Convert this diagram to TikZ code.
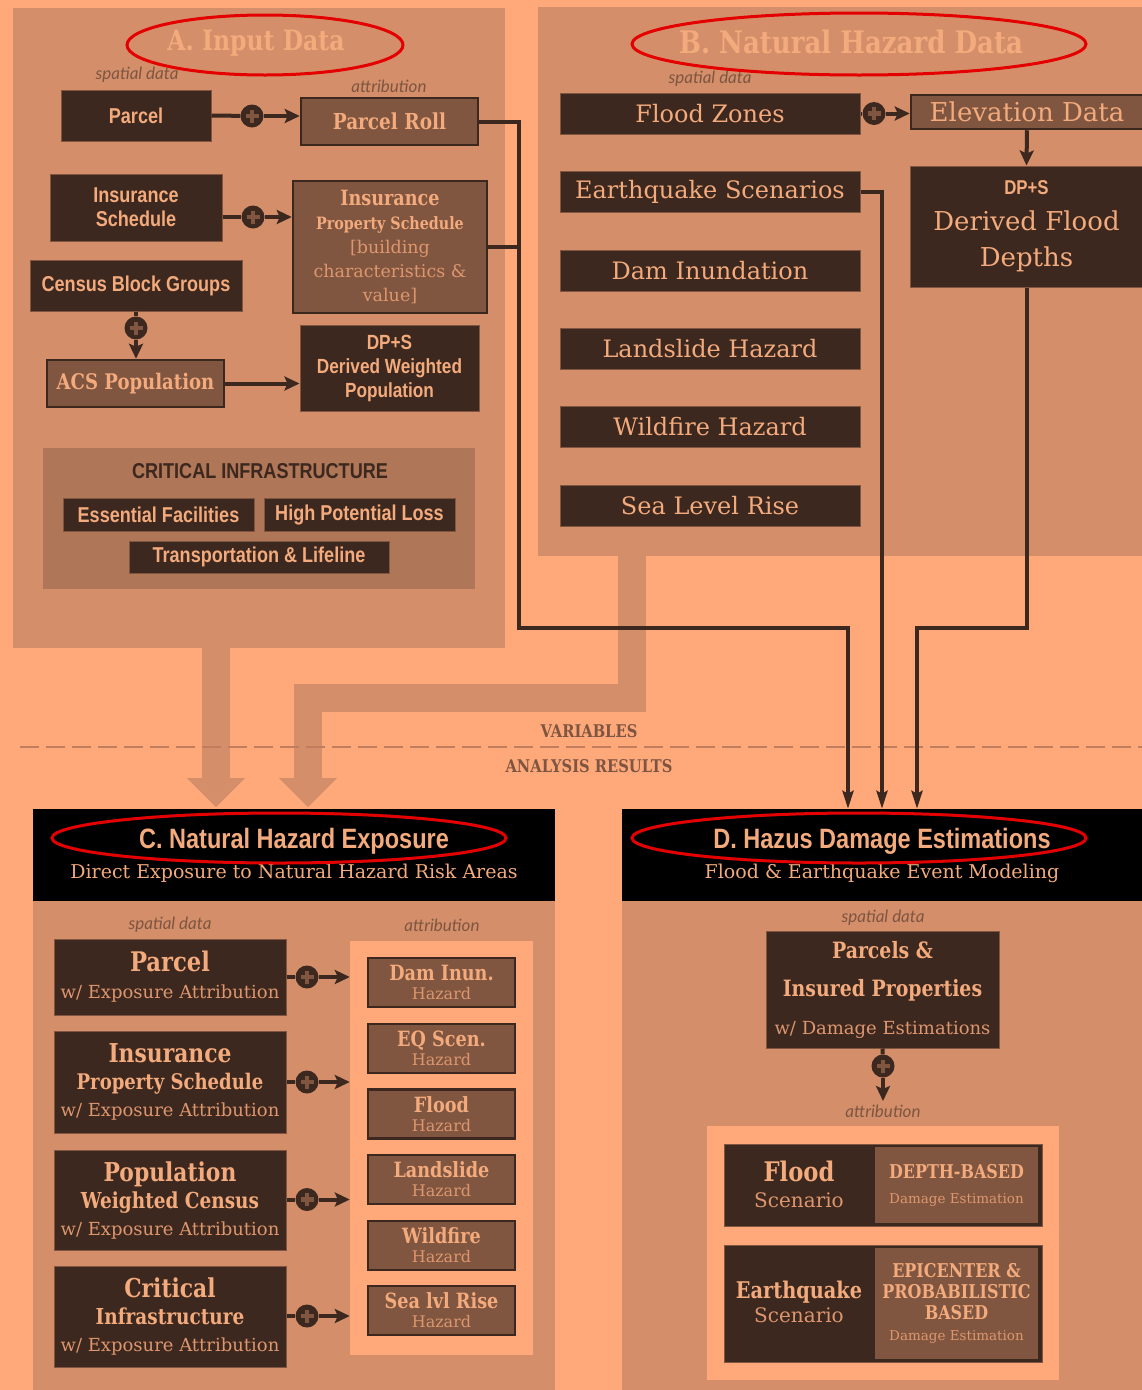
\documentclass[tikz,border=0pt]{standalone}
\usepackage{fontspec}
\usetikzlibrary{arrows.meta}
\setmainfont{DejaVu Serif}
\newfontfamily\slab{DejaVu Serif}
\newfontfamily\slabb[FakeStretch=0.84]{DejaVu Serif}
\newfontfamily\cond[FakeStretch=0.84]{Liberation Sans}
\newfontfamily\ital{Lato}
\definecolor{bgc}{RGB}{255,169,122}
\definecolor{pnc}{RGB}{212,143,106}
\definecolor{dkc}{RGB}{60,40,31}
\definecolor{mdc}{RGB}{128,86,64}
\definecolor{cic}{RGB}{175,118,87}
\definecolor{txc}{RGB}{243,170,124}
\definecolor{tlc}{RGB}{222,150,110}
\definecolor{lbc}{RGB}{125,85,65}
\definecolor{dsc}{RGB}{192,126,94}
\definecolor{rdc}{RGB}{228,0,0}
\newcommand\fz[2]{\fontsize{#1}{#2}\selectfont}
\newcommand\bsl{\slabb\bfseries}
\tikzset{
 dbox/.style={fill=dkc, draw=mdc, line width=1pt, inner sep=0pt, text=txc, align=center},
 mbox/.style={fill=mdc, draw=dkc, line width=2.5pt, inner sep=0pt, text=txc, align=center},
 hbox/.style={fill=black, inner sep=0pt, text=txc, align=center, font=\slab\fz{19}{30}},
 hzbox/.style={dbox, minimum width=300pt, minimum height=41pt, font=\slab\fz{24}{28}},
 hazc/.style={mbox, minimum width=147pt, minimum height=49pt, font=\slab\fz{16}{19}},
 cbox/.style={dbox, minimum width=232pt, font=\slab\fz{18}{27}},
 conn/.style={draw=dkc, line width=4pt},
 arr/.style={conn, -{Stealth[length=15pt,width=14pt,inset=3pt]}},
 tarr/.style={conn, -{Stealth[length=18pt,width=11pt,inset=3pt]}},
 plus/.style={circle, fill=dkc, minimum size=23pt, inner sep=0pt,
   path picture={\draw[mdc,line width=4.5pt]
     ([xshift=-6.5pt]path picture bounding box.center) -- ([xshift=6.5pt]path picture bounding box.center)
     ([yshift=-6.5pt]path picture bounding box.center) -- ([yshift=6.5pt]path picture bounding box.center);}},
 lab/.style={text=lbc, font=\ital\itshape\fz{17}{20}},
 oval/.style={draw=rdc, line width=3pt},
 band/.style={draw=pnc, line width=28pt, line join=miter},
}
\begin{document}
\begin{tikzpicture}[x=1pt,y=-1pt]
\useasboundingbox (0,0) rectangle (1142,1390);
\clip (0,0) rectangle (1142,1390);
\fill[bgc] (0,0) rectangle (1142,1390);

% panels A and B
\fill[pnc] (13,8) rectangle (505,648);
\fill[pnc] (538,7) rectangle (1150,556);

% wide arrows
\draw[band] (216,640) -- (216,779);
\fill[pnc] (187,778) -- (245,778) -- (216,807) -- cycle;
\draw[band] (632,550) -- (632,697.5) -- (308,697.5) -- (308,779);
\fill[pnc] (279,778) -- (337,778) -- (308,807) -- cycle;

% dashed divider
\draw[dsc, line width=2.5pt, dash pattern=on 19pt off 7pt] (20,747) -- (1142,747);
\node[text=lbc, font=\bsl\fz{17.5}{20}] (var) at (589,731) {VARIABLES};
\node[text=lbc, font=\bsl\fz{17.5}{20}] (res) at (589,766) {ANALYSIS RESULTS};

% ---------- Panel A ----------
\node[text=txc, font=\bsl\fz{28}{30}] (tA) at (256,43) {A. Input Data};
\node[lab] (saA) at (137,75) {spatial data};
\node[lab] (atA) at (389,86) {attribution};
\node[dbox, minimum width=150pt, minimum height=51pt, font=\cond\bfseries\fz{21.5}{24}] (aparcel) at (136,115.5) {Parcel};
\node[mbox, minimum width=177pt, minimum height=47pt, font=\bsl\fz{22}{24}] (proll) at (389.5,121.5) {Parcel Roll};
\node[dbox, minimum width=172pt, minimum height=67pt, font=\cond\bfseries\fz{21.5}{24}] (insch) at (136,207.5) {Insurance\\Schedule};
\node[mbox, minimum width=194pt, minimum height=132pt, font=\slab\fz{17.5}{24}] (ips) at (390,247)
  {{\bsl\fz{21}{24}Insurance}\\{\bsl\fz{17}{24}Property Schedule}\\{\color{tlc}[building}\\{\color{tlc}characteristics \&}\\{\color{tlc}value]}};
\node[dbox, minimum width=212pt, minimum height=51pt, font=\cond\bfseries\fz{21.5}{24}] (census) at (136,285.5) {Census Block Groups};
\node[mbox, minimum width=177pt, minimum height=47pt, font=\bsl\fz{21.5}{24}] (acs) at (135.5,383.5) {ACS Population};
\node[dbox, minimum width=179pt, minimum height=86pt, font=\cond\bfseries\fz{20.5}{24}] (dpsA) at (389.5,368) {DP+S\\Derived Weighted\\Population};

\node[fill=cic, minimum width=432pt, minimum height=141pt, inner sep=0pt] (ci) at (259,518.5) {};
\node[text=dkc, font=\cond\bfseries\fz{21.5}{24}] (ciT) at (260,471) {CRITICAL INFRASTRUCTURE};
\node[dbox, minimum width=191pt, minimum height=33pt, font=\cond\bfseries\fz{21.5}{24}] (ess) at (158.5,514.5) {Essential Facilities};
\node[dbox, minimum width=191pt, minimum height=33pt, font=\cond\bfseries\fz{21.5}{24}] (hpl) at (359.5,514.5) {High Potential Loss};
\node[dbox, minimum width=260pt, minimum height=32pt, font=\cond\bfseries\fz{21.5}{24}] (trans) at (259,557) {Transportation \& Lifeline};

\node[plus] (pa1) at (252,116) {};
\draw[conn] (aparcel.east) -- (pa1);
\draw[arr] (pa1) -- (pa1 -| proll.west);
\node[plus] (pa2) at (253,217) {};
\draw[conn] (insch.east |- pa2) -- (pa2);
\draw[arr] (pa2) -- (pa2 -| ips.west);
\node[plus] (pa3) at (136,328) {};
\draw[conn] (census.south) -- (pa3);
\draw[arr] (pa3) -- (pa3 |- acs.north);
\draw[arr] (acs.east) -- (acs.east -| dpsA.west);

% ---------- Panel B ----------
\node[text=txc, font=\bsl\fz{31}{34}] (tB) at (851,42) {B. Natural Hazard Data};
\node[lab] (saB) at (710,79) {spatial data};
\node[hzbox] (fz) at (710,113.5) {Flood Zones};
\node[hzbox] (eqs) at (710,191.5) {Earthquake Scenarios};
\node[hzbox] (dam) at (710,270.5) {Dam Inundation};
\node[hzbox] (land) at (710,349) {Landslide Hazard};
\node[hzbox] (wild) at (710,427) {Wildfire Hazard};
\node[hzbox] (slr) at (710,505.5) {Sea Level Rise};
\node[mbox, minimum width=232pt, minimum height=34pt, font=\slab\fz{26}{28}] (elev) at (1027,112) {Elevation Data};
\node[dbox, minimum width=233pt, minimum height=121pt, font=\slab\fz{26}{36}] (dfd) at (1026.5,226.5)
  {{\cond\bfseries\fz{20}{36}DP+S}\\Derived Flood\\Depths};
\node[plus] (pb1) at (874,113.5) {};
\draw[conn] (fz.east) -- (pb1);
\draw[arr] (pb1) -- (pb1 -| elev.west);
\draw[arr] (elev.south) -- (dfd.north);

% ---------- Panel C ----------
\node[hbox, minimum width=522pt, minimum height=92pt] (chead) at (294,855)
  {{\cond\bfseries\fz{28}{30}C. Natural Hazard Exposure}\\Direct Exposure to Natural Hazard Risk Areas};
\fill[pnc] (33,901) rectangle (555,1390);
\node[lab] (saC) at (170,925) {spatial data};
\node[lab] (atC) at (442,925) {attribution};
\node[fill=bgc, minimum width=183pt, minimum height=414pt, inner sep=0pt] (cattr) at (441.5,1148) {};
\node[cbox, minimum height=76pt] (cparcel) at (170,977)
  {{\bsl\fz{27}{27}Parcel}\\{\color{tlc}w/ Exposure Attribution}};
\node[cbox, minimum height=102pt] (cips) at (170,1082)
  {{\bsl\fz{26}{27}Insurance}\\{\bsl\fz{21.5}{27}Property Schedule}\\{\color{tlc}w/ Exposure Attribution}};
\node[cbox, minimum height=100pt] (cpop) at (170,1200)
  {{\bsl\fz{26}{27}Population}\\{\bsl\fz{22}{27}Weighted Census}\\{\color{tlc}w/ Exposure Attribution}};
\node[cbox, minimum height=101pt] (cci) at (170,1316.5)
  {{\bsl\fz{26}{27}Critical}\\{\bsl\fz{22}{27}Infrastructure}\\{\color{tlc}w/ Exposure Attribution}};
\node[hazc] (hdam) at (441.5,982.5) {{\bsl\fz{21}{19}Dam Inun.}\\{\color{tlc}Hazard}};
\node[hazc] (heq) at (441.5,1048.5) {{\bsl\fz{21}{19}EQ Scen.}\\{\color{tlc}Hazard}};
\node[hazc] (hfl) at (441.5,1114) {{\bsl\fz{21}{19}Flood}\\{\color{tlc}Hazard}};
\node[hazc] (hls) at (441.5,1179.5) {{\bsl\fz{21}{19}Landslide}\\{\color{tlc}Hazard}};
\node[hazc] (hwf) at (441.5,1245.5) {{\bsl\fz{21}{19}Wildfire}\\{\color{tlc}Hazard}};
\node[hazc] (hsl) at (441.5,1310.5) {{\bsl\fz{21}{19}Sea lvl Rise}\\{\color{tlc}Hazard}};
\node[plus] (pc1) at (307,977) {};
\node[plus] (pc2) at (307,1082) {};
\node[plus] (pc3) at (307,1199.5) {};
\node[plus] (pc4) at (307,1316) {};
\draw[conn] (cparcel.east |- pc1) -- (pc1); \draw[arr] (pc1) -- (pc1 -| cattr.west);
\draw[conn] (cips.east |- pc2) -- (pc2); \draw[arr] (pc2) -- (pc2 -| cattr.west);
\draw[conn] (cpop.east |- pc3) -- (pc3); \draw[arr] (pc3) -- (pc3 -| cattr.west);
\draw[conn] (cci.east |- pc4) -- (pc4); \draw[arr] (pc4) -- (pc4 -| cattr.west);

% ---------- Panel D ----------
\node[hbox, minimum width=520pt, minimum height=92pt] (dhead) at (882,855)
  {{\cond\bfseries\fz{28}{30}D. Hazus Damage Estimations}\\Flood \& Earthquake Event Modeling};
\fill[pnc] (622,901) rectangle (1150,1390);
\node[lab] (saD) at (883,918) {spatial data};
\node[dbox, minimum width=233pt, minimum height=117pt, font=\slab\fz{18}{38}] (dparc) at (882.5,989.5)
  {{\bsl\fz{22.5}{38}Parcels \&}\\{\bsl\fz{22.5}{38}Insured Properties}\\{\color{tlc}w/ Damage Estimations}};
\node[plus] (pd1) at (883,1066) {};
\coordinate (dend) at (883,1101);
\draw[conn] (dparc.south) -- (pd1);
\draw[arr] (pd1) -- (dend);
\node[lab] (atD) at (883,1111) {attribution};
\node[fill=bgc, minimum width=352pt, minimum height=254pt, inner sep=0pt] (dattr) at (883,1253) {};
\node[dbox, minimum width=318pt, minimum height=82pt] (frow) at (883.5,1185) {};
\node[mbox, minimum width=166pt, minimum height=78pt, font=\slab\fz{13.5}{25}] (fdep) at (956.5,1185)
  {{\bsl\fz{19}{25}DEPTH-BASED}\\{\color{tlc}Damage Estimation}};
\node[text=txc, align=center, font=\slab\fz{20}{26}] (fsc) at (799,1184) {{\bsl\fz{27}{26}Flood}\\{\color{tlc}Scenario}};
\node[dbox, minimum width=318pt, minimum height=117pt] (erow) at (883.5,1303.5) {};
\node[mbox, minimum width=166pt, minimum height=113pt, font=\slab\fz{13.5}{21}] (edep) at (956.5,1303.5)
  {{\bsl\fz{19}{21}EPICENTER \&}\\{\bsl\fz{19}{21}PROBABILISTIC}\\{\bsl\fz{19}{21}BASED}\\{\color{tlc}Damage Estimation}};
\node[text=txc, align=center, font=\slab\fz{20}{24}] (esc) at (799,1302) {{\bsl\fz{23}{24}Earthquake}\\{\color{tlc}Scenario}};

% ---------- long connectors into D ----------
\draw[tarr] (proll.east) -| (519,628) -| ([xshift=-34pt]dhead.north);
\draw[conn] (ips.east) -- ++(32,0);
\draw[tarr] (eqs.east) -| (dhead.north);
\draw[tarr] (dfd.south) -- (dfd.south |- 0,628) -| ([xshift=35pt]dhead.north);

% ---------- red ovals ----------
\draw[oval] (265,45) ellipse [x radius=138pt, y radius=30pt];
\draw[oval] (859,44) ellipse [x radius=227pt, y radius=31pt];
\draw[oval] (279,838) ellipse [x radius=227pt, y radius=25pt];
\draw[oval] (859,838) ellipse [x radius=227pt, y radius=25pt];
\end{tikzpicture}
\end{document}
